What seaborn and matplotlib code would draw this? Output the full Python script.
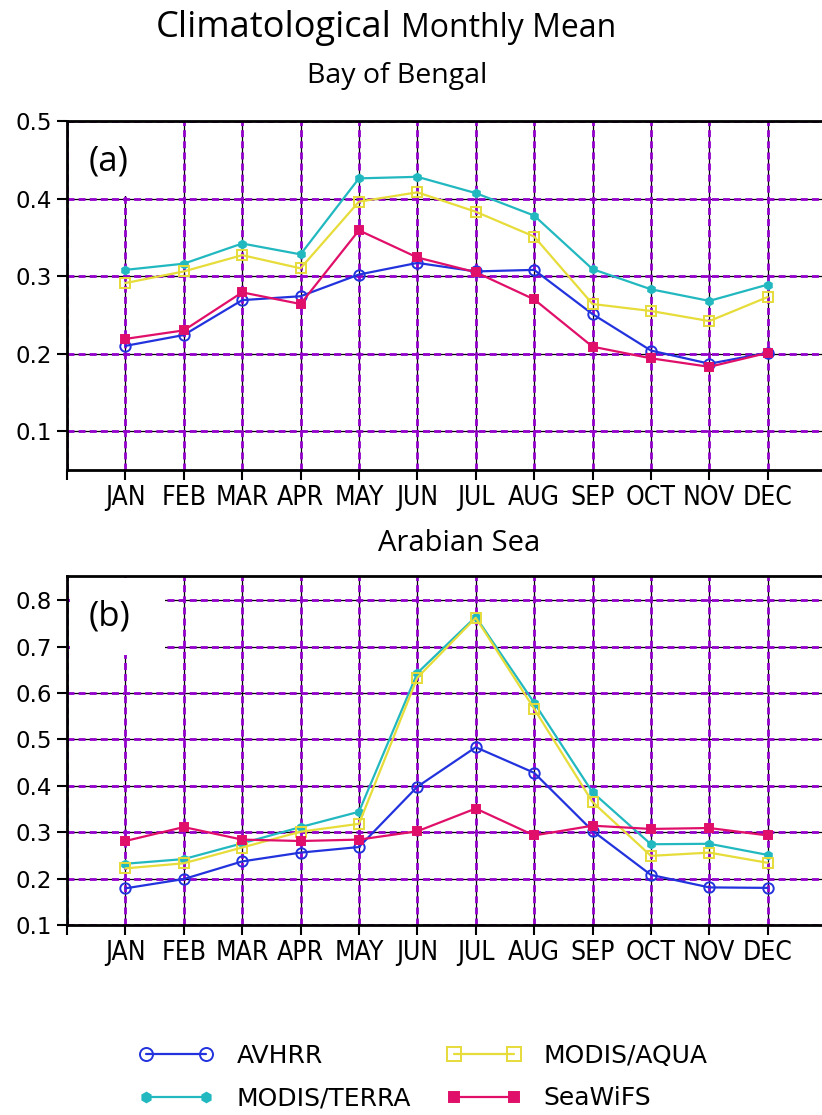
import numpy as np
import pandas as pd
import seaborn as sns
import matplotlib.pyplot as plt
from matplotlib.patches import Rectangle

months = ['JAN', 'FEB', 'MAR', 'APR', 'MAY', 'JUN', 'JUL', 'AUG', 'SEP', 'OCT', 'NOV', 'DEC']
series_names = ['AVHRR', 'MODIS/TERRA', 'MODIS/AQUA', 'SeaWiFS']

# Bay of Bengal
avhrr_bob = [0.210, 0.224, 0.269, 0.274, 0.302, 0.317, 0.306, 0.308, 0.251, 0.204, 0.187, 0.201]
terra_bob = [0.308, 0.316, 0.342, 0.328, 0.426, 0.428, 0.407, 0.378, 0.309, 0.283, 0.268, 0.289]
aqua_bob = [0.291, 0.306, 0.327, 0.310, 0.396, 0.408, 0.383, 0.351, 0.264, 0.255, 0.242, 0.273]
seawifs_bob = [0.219, 0.230, 0.279, 0.264, 0.359, 0.324, 0.305, 0.270, 0.209, 0.194, 0.183, 0.201]

# Arabian Sea
avhrr_as = [0.179, 0.199, 0.237, 0.256, 0.268, 0.398, 0.483, 0.428, 0.303, 0.208, 0.181, 0.180]
terra_as = [0.232, 0.242, 0.276, 0.311, 0.344, 0.643, 0.764, 0.579, 0.386, 0.274, 0.275, 0.251]
aqua_as = [0.222, 0.233, 0.267, 0.301, 0.318, 0.633, 0.762, 0.566, 0.365, 0.249, 0.256, 0.234]
seawifs_as = [0.281, 0.311, 0.284, 0.281, 0.284, 0.302, 0.351, 0.293, 0.314, 0.307, 0.309, 0.293]

yticks_a = [0.1, 0.2, 0.3, 0.4, 0.5]
yticks_b = [0.1, 0.2, 0.3, 0.4, 0.5, 0.6, 0.7, 0.8]

styles = {
    'AVHRR': ('#2233dd', 'o', False, 7.5),
    'MODIS/TERRA': ('#22b8c0', 'h', True, 5.5),
    'MODIS/AQUA': ('#e6dc3a', 's', False, 7.5),
    'SeaWiFS': ('#e0106a', 's', True, 6),
}

sns.set_style("ticks")
plt.rcParams['font.family'] = ['DejaVu Sans']
plt.rcParams['text.color'] = 'black'
plt.rcParams['xtick.color'] = 'black'
plt.rcParams['ytick.color'] = 'black'
plt.rcParams['xtick.labelcolor'] = 'black'
plt.rcParams['ytick.labelcolor'] = 'black'
title_font = ['Open Sans', 'DejaVu Sans']

fig = plt.figure(figsize=(8.22, 11.15), dpi=100)
ax_a = fig.add_axes([0.0815, 0.5785, 0.9185, 0.313])
ax_b = fig.add_axes([0.0815, 0.1704, 0.9185, 0.313])

grid_c = '#9400cc'


def draw_panel(ax, data, yticks, ylim, tag, box_bottom):
    x = np.arange(1, 13)
    handles = []
    for name, vals in zip(series_names, data):
        c, m, filled, ms = styles[name]
        df = pd.DataFrame({'month': x, 'val': vals})
        sns.lineplot(data=df, x='month', y='val', ax=ax, color=c, marker=m,
                     markersize=ms, markerfacecolor=c if filled else 'none',
                     markeredgecolor=c, markeredgewidth=1.4, lw=1.6,
                     label=name, legend=False, zorder=3)
        handles.append(ax.lines[-1])
    ax.set_xlim(0, 12.93)
    ax.set_ylim(*ylim)
    ax.set_xticks(range(0, 13))
    ax.set_xticklabels([''] + months)
    ax.set_yticks(yticks)
    ax.set_yticklabels([f'{v:.1f}' for v in yticks])
    for t in ax.get_xticklabels():
        t.set_fontfamily('DejaVu Sans')
        t.set_fontstretch('condensed')
        t.set_fontsize(19)
    for t in ax.get_yticklabels():
        t.set_fontfamily('DejaVu Sans')
        t.set_fontsize(16.5)
    ax.set_xlabel('')
    ax.set_ylabel('')
    ax.set_axisbelow(True)
    for v in range(0, 13):
        ax.axvline(v, color='k', lw=0.9, zorder=0.4)
    for v in yticks:
        ax.axhline(v, color='k', lw=0.9, zorder=0.4)
    ax.grid(True, color=grid_c, linestyle=(0, (2.5, 1.5)), lw=2.0)
    for s in ['left', 'bottom', 'top']:
        ax.spines[s].set_color('k')
        ax.spines[s].set_linewidth(2)
    ax.spines['right'].set_visible(False)
    ax.tick_params(direction='out', length=7, width=1.5, color='k', labelcolor='k', pad=4)
    # white patch behind the panel tag, as in the original
    ax.add_patch(Rectangle((0.004, box_bottom), 0.126, 0.994 - box_bottom,
                           transform=ax.transAxes, facecolor='white',
                           edgecolor='none', zorder=1))
    ax.text(0.028, 0.885, tag, transform=ax.transAxes, va='center', ha='left',
            fontsize=25, family=title_font, zorder=5)
    return handles


h = draw_panel(ax_a, [avhrr_bob, terra_bob, aqua_bob, seawifs_bob], yticks_a, (0.05, 0.5), '(a)', 0.785)
draw_panel(ax_b, [avhrr_as, terra_as, aqua_as, seawifs_as], yticks_b, (0.1, 0.852), '(b)', 0.774)

fig.text(0.476, 0.9668, 'Climatological', ha='right', va='baseline', fontsize=26, family=title_font)
fig.text(0.488, 0.9668, 'Monthly Mean', ha='left', va='baseline', fontsize=23, family=title_font)
fig.text(0.483, 0.9256, 'Bay of Bengal', ha='center', va='baseline', fontsize=20.5, family=title_font)
fig.text(0.558, 0.506, 'Arabian Sea', ha='center', va='baseline', fontsize=21, family=title_font)

leg = fig.legend(h, series_names, ncol=2, loc='center', bbox_to_anchor=(0.515, 0.034),
                 frameon=False, numpoints=2, handlelength=3.0, fontsize=18,
                 columnspacing=1.42, labelspacing=0.75, handletextpad=0.9,
                 markerscale=1.25)

fig.savefig('out.png', dpi=100)
